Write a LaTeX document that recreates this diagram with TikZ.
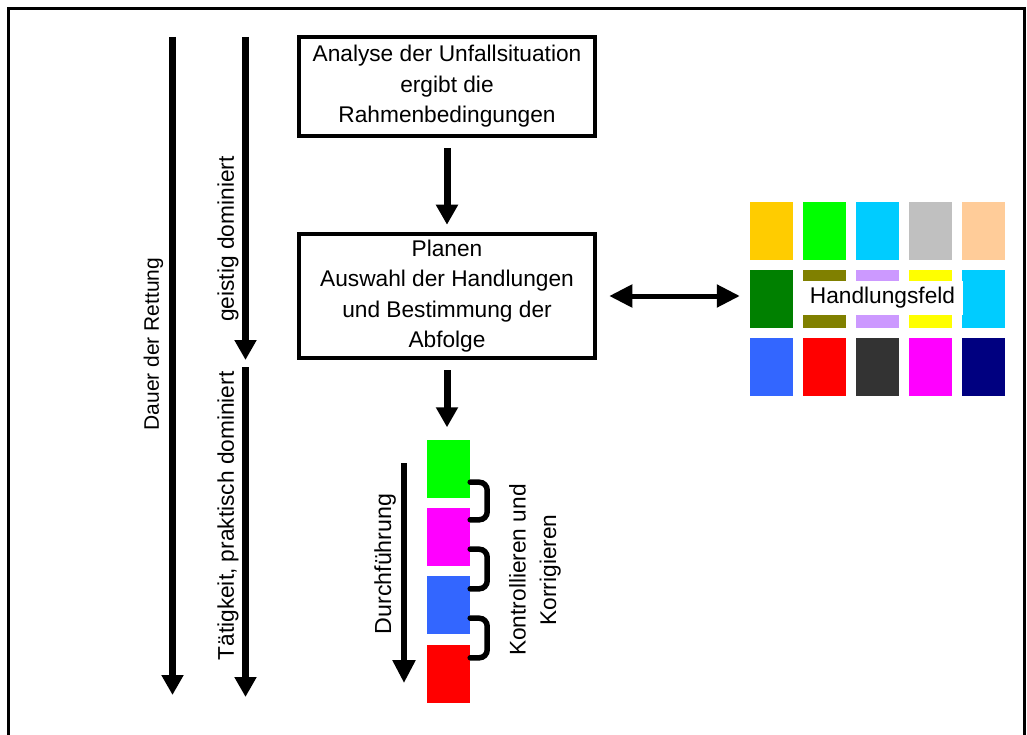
\documentclass[tikz,border=0pt]{standalone}
\usepackage{fontspec}
\setmainfont{Liberation Sans}
\usetikzlibrary{arrows.meta,calc}

% palette of the action field
\definecolor{cGold}{HTML}{FFCC00}
\definecolor{cLime}{HTML}{00FF00}
\definecolor{cSky}{HTML}{00CCFF}
\definecolor{cSilver}{HTML}{C0C0C0}
\definecolor{cPeach}{HTML}{FFCC99}
\definecolor{cGreen}{HTML}{008000}
\definecolor{cOlive}{HTML}{808000}
\definecolor{cLilac}{HTML}{CC99FF}
\definecolor{cYellow}{HTML}{FFFF00}
\definecolor{cBlue}{HTML}{3366FF}
\definecolor{cRed}{HTML}{FF0000}
\definecolor{cDark}{HTML}{333333}
\definecolor{cMagenta}{HTML}{FF00FF}
\definecolor{cNavy}{HTML}{000080}

\begin{document}
\begin{tikzpicture}[x=1pt,y=-1pt,
  txt/.style={font=\fontsize{22.7}{30.5}\selectfont, align=center, inner sep=0pt},
  stagebox/.style={txt, draw, line width=4.5pt, minimum width=296pt},
  bigarrow/.style={line width=7pt, -{Triangle[width=21pt,length=20pt]}},
  midarrow/.style={line width=5.5pt, -{Triangle[width=22pt,length=23pt]}},
  twoarrow/.style={line width=5pt, {Triangle[width=22pt,length=23pt]}-{Triangle[width=22pt,length=23pt]}},
  cell/.style={minimum width=43pt, minimum height=58pt, inner sep=0pt},
  bracket/.style={line width=5.5pt, rounded corners=8pt, line cap=round},
]
\useasboundingbox (0,0) rectangle (1027,735);

% outer frame (open at the bottom)
\draw[line width=3.5pt] (8.5,740) -- (8.5,8.5) -- (1024.5,8.5) -- (1024.5,740);

% time axes on the left
\coordinate (d0) at (172.5,37);
\coordinate (d1) at (172.5,695);
\coordinate (g0) at (245.5,37);
\coordinate (g1) at (245.5,360);
\coordinate (t0) at (245.5,367);
\coordinate (t1) at (245.5,697);
\draw[bigarrow] (d0) -- (d1);
\draw[bigarrow] (g0) -- (g1);
\draw[bigarrow] (t0) -- (t1);
\node[txt, font=\fontsize{21}{28}\selectfont, rotate=90] (lDauer) at (153.5,344) {Dauer der Rettung};
\node[txt, rotate=90] (lGeist) at (228,239) {geistig dominiert};
\node[txt, rotate=90] (lTat) at (228,516) {Tätigkeit, praktisch dominiert};

% stages
\node[stagebox, minimum height=99pt] (b1) at (447,86.5)
  {Analyse der Unfallsituation\\ergibt die\\Rahmenbedingungen};
\node[stagebox, minimum height=124pt] (b2) at (447,296)
  {Planen\\Auswahl der Handlungen\\und Bestimmung der\\Abfolge};

% action field grid
\foreach \c [count=\i] in {cGold,cLime,cSky,cSilver,cPeach}
  \node[cell, fill=\c] (g-1-\i) at ({771.5+53*(\i-1)},231) {};
\foreach \c [count=\i] in {cGreen,cOlive,cLilac,cYellow,cSky}
  \node[cell, fill=\c] (g-2-\i) at ({771.5+53*(\i-1)},299) {};
\foreach \c [count=\i] in {cBlue,cRed,cDark,cMagenta,cNavy}
  \node[cell, fill=\c] (g-3-\i) at ({771.5+53*(\i-1)},367) {};
\node[txt, fill=white, minimum width=161pt, minimum height=34pt] (hf) at (882.5,298) {Handlungsfeld};

% execution sequence
\node[cell, fill=cLime]    (s1) at (448.5,468.5) {};
\node[cell, fill=cMagenta] (s2) at (448.5,537) {};
\node[cell, fill=cBlue]    (s3) at (448.5,605) {};
\node[cell, fill=cRed]     (s4) at (448.5,674) {};

% connectors between stages
\draw[bigarrow, shorten <=10pt, shorten >=7pt] (b1.south) -- (b2.north);
\draw[bigarrow, shorten <=10pt, shorten >=12pt] (b2.south) -- (b2.south |- s1.north);
\draw[twoarrow, shorten <=12pt, shorten >=10pt] (b2.east) -- (b2.east -| g-2-1.west);

% execution arrow and control brackets
\coordinate (x0) at (404,463);
\coordinate (x1) at (404,683);
\draw[midarrow] (x0) -- (x1);
\node[txt, font=\fontsize{23.2}{31}\selectfont, rotate=90] (lDurch) at (385,564) {Durchführung};

\draw[bracket] ($(s1.south east)+(0,-15.5)$) -| ($(s2.north east)+(17,12)$) -- ($(s2.north east)+(0,12)$);
\draw[bracket] ($(s2.south east)+(0,-17)$) -| ($(s3.north east)+(17,13)$) -- ($(s3.north east)+(0,13)$);
\draw[bracket] ($(s3.south east)+(0,-16)$) -| ($(s4.north east)+(17,13)$) -- ($(s4.north east)+(0,13)$);
\node[txt, rotate=90] (lKontr) at (535,570) {Kontrollieren und\\Korrigieren};
\end{tikzpicture}
\end{document}
